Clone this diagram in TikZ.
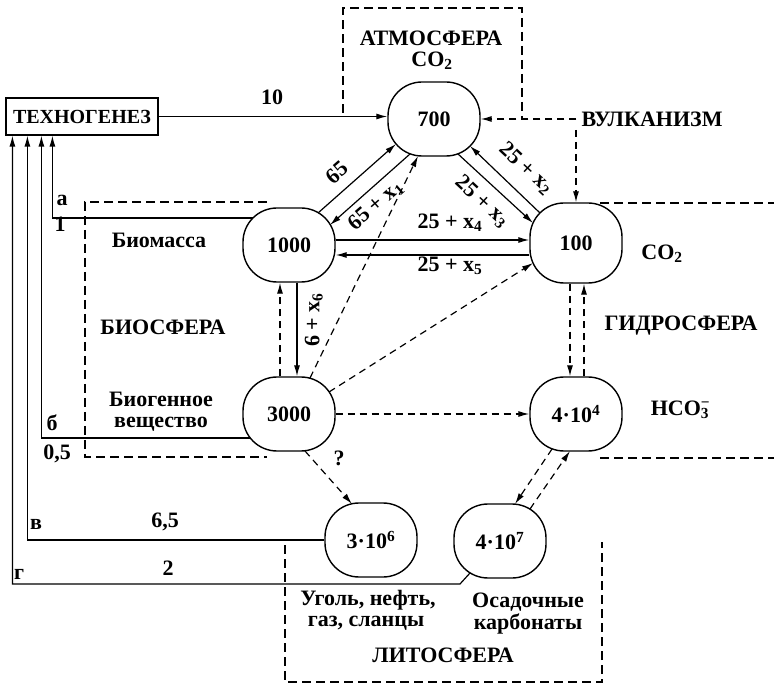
\documentclass[tikz,border=0pt]{standalone}
\usepackage{fontspec}
\setmainfont{Liberation Serif}
\usetikzlibrary{arrows.meta,calc}
\tikzset{
  lbl/.style={font=\fontsize{22}{24}\selectfont\bfseries, inner sep=1pt, text height=0.7em, text depth=0.22em},
  pool/.style={draw, line width=1.4pt, rounded corners=34pt, minimum width=92pt, minimum height=74pt,
    inner sep=0pt, font=\fontsize{22}{24}\selectfont\bfseries},
  techbox/.style={draw, line width=1.2pt, minimum width=152pt, minimum height=37pt, inner sep=0pt,
    font=\fontsize{20}{22}\selectfont\bfseries},
  flow/.style={line width=1.2pt, -{Latex[length=11pt,width=6pt]}},
  dflow/.style={flow, dash pattern=on 7pt off 5pt},
  sphere/.style={line width=2pt, dash pattern=on 9pt off 5pt},
}
\begin{document}
\begin{tikzpicture}[x=1pt,y=-1pt]
\fill[white] (0,0) rectangle (774,684);
\useasboundingbox (0,0) rectangle (774,684);

% carbon pools
\node[techbox] (tech) at (82,116.5) {ТЕХНОГЕНЕЗ};
\node[pool] (atm)  at (434,119) {700};
\node[pool] (bio)  at (289,245) {1000};
\node[pool, minimum height=80pt] (hyd) at (576,243) {100};
\node[pool] (org)  at (289,414) {3000};
\node[pool] (bic)  at (576,414) {4·10\textsuperscript{4}};
\node[pool] (coal) at (371,540) {3·10\textsuperscript{6}};
\node[pool] (carb) at (500,541) {4·10\textsuperscript{7}};

% sphere names and pool captions
\node[lbl] (atmT) at (431,43) {АТМОСФЕРА};
\node[lbl] (atmC) at (432,64) {CO\textsubscript{2}};
\node[lbl] (volc) at (652,124) {ВУЛКАНИЗМ};
\node[lbl] (bioT) at (159,245) {Биомасса};
\node[lbl] (bioS) at (163,332) {БИОСФЕРА};
\node[lbl] (orgA) at (161,404) {Биогенное};
\node[lbl] (orgB) at (161,425) {вещество};
\node[lbl] (hydC) at (662,257) {CO\textsubscript{2}};
\node[lbl] (hydS) at (681,328) {ГИДРОСФЕРА};
\node[lbl] (bicC) at (680,413) {HCO\rlap{\textsuperscript{−}}\textsubscript{3}};
\node[lbl] (coalA) at (368,603) {Уголь, нефть,};
\node[lbl] (coalB) at (366,624) {газ, сланцы};
\node[lbl] (carbA) at (528,605) {Осадочные};
\node[lbl] (carbB) at (528,627) {карбонаты};
\node[lbl] (litS) at (443,660) {ЛИТОСФЕРА};

% sphere boundaries
\draw[sphere] (343,113) -- (343,8) -- (522,8) -- (522,119);
\draw[sphere] (267,202) -- (85,202) -- (85,457) -- (267,457);
\draw[sphere] (600,203) -- (774,203);
\draw[sphere] (600,458) -- (774,458);
\draw[sphere] (285,545) -- (285,682) -- (602,682) -- (602,542);

% fluxes
\draw[flow] (tech.east) -- (tech.east -| atm.west);
\node[lbl] (f10) at (272,102) {10};

\draw[flow] ($(bio)+(29,-32)$) -- ($(atm)+(-38,25)$);
\draw[flow] ($(atm)+(-24,35)$) -- ($(bio)+(41,-20)$);
\node[lbl, rotate=41] (f65) at (340,176) {65};
\node[lbl, rotate=41] (f65x) at (378,208) {65 + x\textsubscript{1}};

\draw[flow] ($(hyd)+(-36,-30)$) -- ($(atm)+(36,27)$);
\draw[flow] ($(atm)+(24,35)$) -- ($(hyd)+(-43,-20)$);
\node[lbl, rotate=-43] (f25b) at (524,171) {25 + x\textsubscript{2}};
\node[lbl, rotate=-43] (f25c) at (480,204) {25 + x\textsubscript{3}};

\draw[flow] ($(bio.east)+(0,-5)$) -- ($(hyd.west)+(0,-3)$);
\draw[flow] ($(hyd.west)+(0,12)$) -- ($(bio.east)+(0,10)$);
\node[lbl] (f25d) at (450,226) {25 + x\textsubscript{4}};
\node[lbl] (f25e) at (450,269) {25 + x\textsubscript{5}};

\draw[dflow] ($(org.north)+(-9,0)$) -- ($(bio.south)+(-9,0)$);
\draw[flow] ($(bio.south)+(8,0)$) -- ($(org.north)+(8,0)$);
\node[lbl, rotate=90] (f6) at (317,320) {6 + x\textsubscript{6}};

\draw[dflow] ($(org)+(21,-36)$) -- ($(atm)+(-16,37)$);
\draw[dflow] ($(org)+(40,-22)$) -- ($(hyd)+(-43,20)$);
\draw[dflow] (org.east) -- (bic.west);
\draw[dflow] ($(org)+(16,37)$) -- ($(coal)+(-19,-36)$);
\node[lbl] (fq) at (339,463) {?};

\draw[dflow] ($(hyd.south)+(-6,0)$) -- ($(bic.north)+(-6,0)$);
\draw[dflow] ($(bic.north)+(8,0)$) -- ($(hyd.south)+(8,0)$);
\draw[dflow] ($(bic)+(-24,35)$) -- ($(carb)+(15,-37)$);
\draw[dflow] ($(carb)+(30,-32)$) -- ($(bic)+(-6,37)$);

% volcanism
\draw[dflow] ($(volc.west |- atm.east)+(-4,0)$) -- (atm.east);
\draw[dflow] (hyd.north |- volc.south) -- (hyd.north);

% withdrawals into technogenesis
\draw[flow] ($(bio)+(-36,-27)$) -| ([xshift=47pt]tech.south west);
\draw[flow] ($(org)+(-39,24)$) -| ([xshift=36pt]tech.south west);
\draw[flow] (coal.west) -| ([xshift=22pt]tech.south west);
\draw[flow] ($(carb)+(-30,32)$) -- ++(-10,11) -| ([xshift=7pt]tech.south west);
\node[lbl] (la) at (62,203) {а};
\node[lbl] (l1) at (60,229) {1};
\node[lbl] (lb) at (52,428) {б};
\node[lbl] (l05) at (57,457) {0,5};
\node[lbl] (lv) at (36,527) {в};
\node[lbl] (l65) at (165,525) {6,5};
\node[lbl] (lg) at (19,577) {г};
\node[lbl] (l2) at (168,573) {2};
\end{tikzpicture}
\end{document}
